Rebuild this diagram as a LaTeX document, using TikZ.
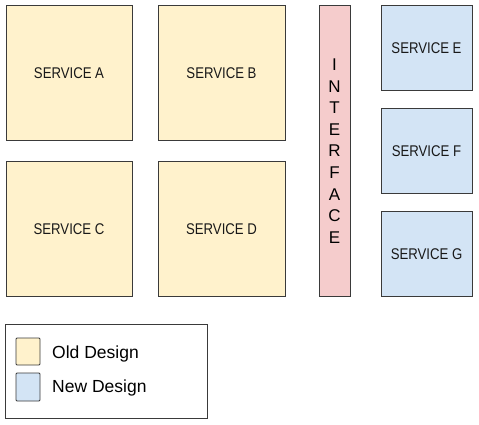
\documentclass[tikz,border=0pt]{standalone}
\usepackage{fontspec}
\setmainfont{Liberation Sans}
\definecolor{oldfill}{HTML}{FFF2CC}
\definecolor{newfill}{HTML}{D3E4F5}
\definecolor{intfill}{HTML}{F5CCCC}
\definecolor{edge}{HTML}{3A3A3A}
\newcommand{\svc}[1]{\scalebox{0.85}[1]{\fontsize{15.5}{17}\selectfont #1}}
\begin{document}
\begin{tikzpicture}[x=1pt,y=-1pt,
  box/.style={draw=edge,line width=0.9pt},
  oldbox/.style={box,fill=oldfill},
  newbox/.style={box,fill=newfill},
  lbl/.style={inner sep=0pt,text=black!90},
  swatch/.style={draw=edge,line width=0.9pt,rounded corners=1pt}]
\useasboundingbox (0,0) rectangle (479,425);
\fill[white] (0,0) rectangle (479,425);
\path[oldbox] (6,5) rectangle (132,140);
\path[oldbox] (158,5) rectangle (285,140);
\path[oldbox] (6,161) rectangle (132,296);
\path[oldbox] (158,161) rectangle (285,296);
\node[lbl] (sa) at (69,73.5) {\svc{SERVICE A}};
\node[lbl] (sb) at (221.5,73.5) {\svc{SERVICE B}};
\node[lbl] (sc) at (69,229.5) {\svc{SERVICE C}};
\node[lbl] (sd) at (221.5,229.5) {\svc{SERVICE D}};
\path[box,fill=intfill] (319,5) rectangle (350,296);
\node[font=\fontsize{17}{21.6}\selectfont,align=center,inner sep=0pt] (int) at (334.5,151)
  {I\\N\\T\\E\\R\\F\\A\\C\\E};
\path[newbox] (381,5) rectangle (472,90);
\path[newbox] (381,108) rectangle (472,193);
\path[newbox] (381,211) rectangle (472,296);
\node[lbl] (se) at (426.5,48.5) {\svc{SERVICE E}};
\node[lbl] (sf) at (426.5,151.5) {\svc{SERVICE F}};
\node[lbl] (sg) at (426.5,254.5) {\svc{SERVICE G}};
\draw[draw=edge,line width=0.9pt] (5,324) rectangle (207,418);
\path[swatch,fill=oldfill] (16,338) rectangle (40,365);
\path[swatch,fill=newfill] (16,373) rectangle (40,401);
\node[anchor=west,font=\fontsize{17.5}{20}\selectfont,inner sep=0pt] (lo) at (52,354) {Old Design};
\node[anchor=west,font=\fontsize{17.5}{20}\selectfont,inner sep=0pt] (ln) at (52,388) {New Design};
\end{tikzpicture}
\end{document}
